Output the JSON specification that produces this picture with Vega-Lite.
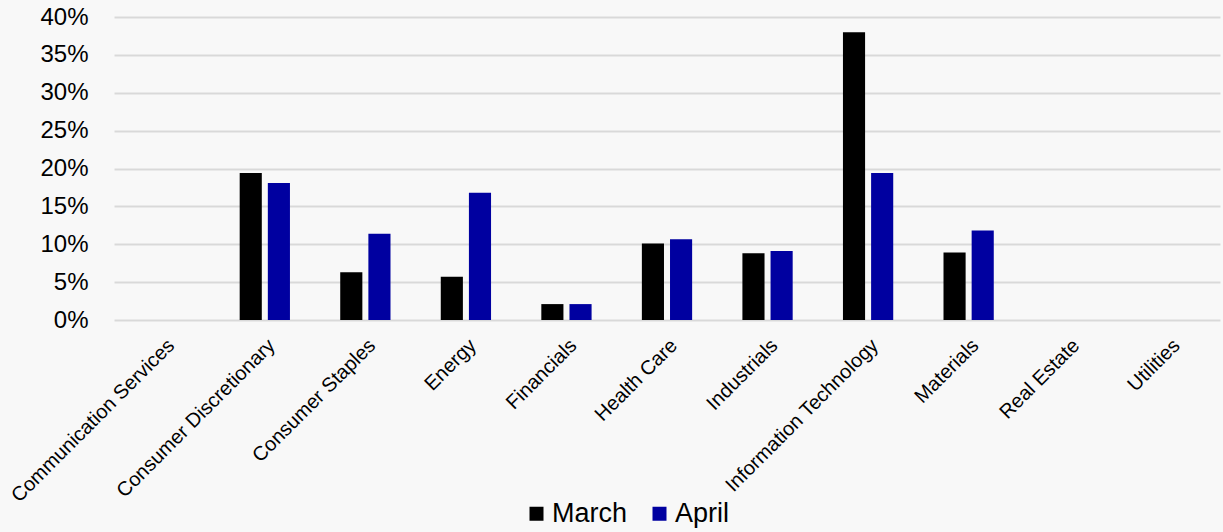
{
  "$schema": "https://vega.github.io/schema/vega-lite/v6.json",
  "width": 1106,
  "height": 303,
  "autosize": {"type": "none"},
  "padding": {"left": 114, "top": 17, "right": 3, "bottom": 212},
  "background": "#f8f8f8",
  "config": {"view": {"stroke": null}, "font": "Liberation Sans"},
  "data": {
    "values": [
      {"sector": "Communication Services", "month": "March", "value": 0},
      {"sector": "Communication Services", "month": "April", "value": 0},
      {"sector": "Consumer Discretionary", "month": "March", "value": 19.4},
      {"sector": "Consumer Discretionary", "month": "April", "value": 18.1},
      {"sector": "Consumer Staples", "month": "March", "value": 6.3},
      {"sector": "Consumer Staples", "month": "April", "value": 11.4},
      {"sector": "Energy", "month": "March", "value": 5.7},
      {"sector": "Energy", "month": "April", "value": 16.8},
      {"sector": "Financials", "month": "March", "value": 2.1},
      {"sector": "Financials", "month": "April", "value": 2.1},
      {"sector": "Health Care", "month": "March", "value": 10.1},
      {"sector": "Health Care", "month": "April", "value": 10.65},
      {"sector": "Industrials", "month": "March", "value": 8.8},
      {"sector": "Industrials", "month": "April", "value": 9.1},
      {"sector": "Information Technology", "month": "March", "value": 38.0},
      {"sector": "Information Technology", "month": "April", "value": 19.4},
      {"sector": "Materials", "month": "March", "value": 8.9},
      {"sector": "Materials", "month": "April", "value": 11.8},
      {"sector": "Real Estate", "month": "March", "value": 0},
      {"sector": "Real Estate", "month": "April", "value": 0},
      {"sector": "Utilities", "month": "March", "value": 0},
      {"sector": "Utilities", "month": "April", "value": 0}
    ]
  },
  "mark": {"type": "bar"},
  "encoding": {
    "x": {
      "field": "sector",
      "type": "nominal",
      "sort": null,
      "title": null,
      "scale": {"paddingInner": 0.5, "paddingOuter": 0.25},
      "axis": {
        "labelAngle": -45,
        "labelFontSize": 20,
        "labelColor": "#000000",
        "labelPadding": 15,
        "labelLimit": 0,
        "labelOverlap": false,
        "domain": false,
        "ticks": false,
        "grid": false
      }
    },
    "xOffset": {
      "field": "month",
      "sort": ["March", "April"],
      "scale": {"paddingInner": 0.214, "paddingOuter": 0}
    },
    "y": {
      "field": "value",
      "type": "quantitative",
      "title": null,
      "scale": {"domain": [0, 40], "nice": false},
      "axis": {
        "values": [0, 5, 10, 15, 20, 25, 30, 35, 40],
        "labelExpr": "datum.value + '%'",
        "labelFontSize": 24,
        "labelColor": "#000000",
        "labelPadding": 26,
        "domain": false,
        "ticks": false,
        "gridColor": "#d9d9d9",
        "gridWidth": 2,
        "gridOpacity": 1
      }
    },
    "color": {
      "field": "month",
      "type": "nominal",
      "scale": {"domain": ["March", "April"], "range": ["#000000", "#0000a0"]},
      "legend": {
        "title": null,
        "orient": "none",
        "direction": "horizontal",
        "legendX": 409,
        "legendY": 483,
        "symbolType": "square",
        "symbolSize": 196,
        "symbolStrokeWidth": 0,
        "labelFontSize": 27,
        "labelColor": "#000000",
        "columnPadding": 18,
        "labelOffset": 2
      }
    }
  }
}
